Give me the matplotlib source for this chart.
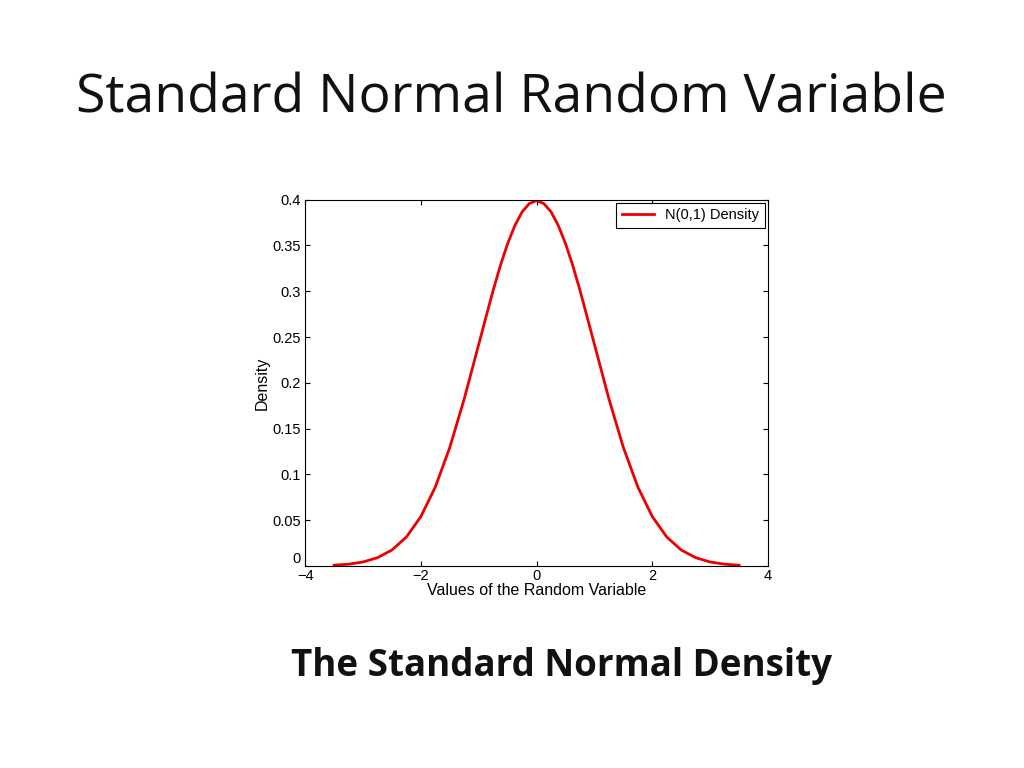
import matplotlib
matplotlib.use("Agg")
import matplotlib.pyplot as plt

# values (left half, mirrored for the right)
x_left = [-3.5, -3.25, -3.0, -2.75, -2.5, -2.25, -2.0, -1.75, -1.5, -1.25,
          -1.0, -0.875, -0.75, -0.625, -0.5, -0.375, -0.25, -0.125, 0.0]
y_left = [0.0009, 0.0020, 0.0044, 0.0091, 0.0175, 0.0317, 0.0540, 0.0863,
          0.1295, 0.1826, 0.2420, 0.2717, 0.3011, 0.3282, 0.3521, 0.3718,
          0.3867, 0.3958, 0.3989]
x_vals = x_left + [-v for v in x_left[-2::-1]]
y_vals = y_left + y_left[-2::-1]

xticks = [-4, -2, 0, 2, 4]
xticklabels = ['\u22124', '\u22122', '0', '2', '4']
yticks = [0, 0.05, 0.1, 0.15, 0.2, 0.25, 0.3, 0.35, 0.4]
yticklabels = ['0', '0.05', '0.1', '0.15', '0.2', '0.25', '0.3', '0.35', '0.4']

fig = plt.figure(figsize=(10.24, 7.68), dpi=100)
fig.text(0.499, 0.872, 'Standard Normal Random Variable', ha='center', va='center',
         fontsize=38.5, family='Open Sans', color='#111111')
fig.text(0.548, 0.133, 'The Standard Normal Density', ha='center', va='center',
         fontsize=26.5, family='Open Sans', weight='bold', color='#111111')

ax = fig.add_axes([0.298, 0.263, 0.452, 0.477])
ax.plot(x_vals, y_vals, color='#ee0000', lw=2, label='N(0,1) Density')
ax.set_xlim(-4, 4)
ax.set_ylim(0, 0.4)
ax.set_xticks(xticks)
ax.set_xticklabels(xticklabels)
ax.set_yticks(yticks)
ax.set_yticklabels(yticklabels)
ax.tick_params(direction='in', top=True, right=True, labelsize=10.5, pad=3)
ax.tick_params(axis='x', pad=2)
for lab in ax.get_xticklabels() + ax.get_yticklabels():
    lab.set_family('Liberation Sans')
ax.get_yticklabels()[0].set_va('bottom')
ax.set_xlabel('Values of the Random Variable', fontsize=11.5, family='Liberation Sans', labelpad=0)
ax.set_ylabel('Density', fontsize=11.5, family='Liberation Sans', labelpad=2)
leg = ax.legend(loc='upper right', handlelength=2.2, borderaxespad=0.2,
                fancybox=False, framealpha=1, prop={'family': 'Liberation Sans', 'size': 10.5})
leg.get_frame().set_edgecolor('black')
leg.get_frame().set_linewidth(0.8)

fig.savefig('out.png', dpi=100)
